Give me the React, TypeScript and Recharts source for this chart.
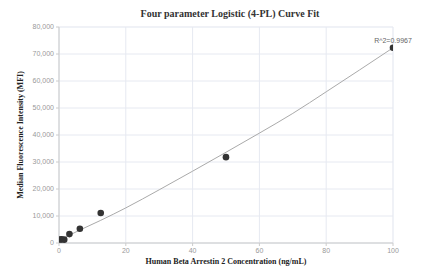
import React from 'react';
import {
  ComposedChart,
  Line,
  Scatter,
  XAxis,
  YAxis,
  CartesianGrid,
  ReferenceDot,
} from 'recharts';

const concentrations = [0.39, 0.78, 1.56, 3.125, 6.25, 12.5, 50, 100];
const mfiValues = [1300, 1350, 1250, 3300, 5300, 11100, 31800, 72300];

const curveX = [0.39, 3.125, 6.25, 12.5, 20, 30, 40, 50, 60, 70, 80, 90, 100];
const curveY = [1150, 2900, 4800, 8400, 13000, 19700, 26600, 33600, 40700, 48000, 56000, 64100, 72300];

const xTicks = [0, 20, 40, 60, 80, 100];
const xMinorTicks = [0, 4, 8, 12, 16, 20, 24, 28, 32, 36, 40, 44, 48, 52, 56, 60, 64, 68, 72, 76, 80, 84, 88, 92, 96, 100];
const yTicks = [0, 10000, 20000, 30000, 40000, 50000, 60000, 70000, 80000];
const yMinorTicks = [0, 5000, 10000, 15000, 20000, 25000, 30000, 35000, 40000, 45000, 50000, 55000, 60000, 65000, 70000, 75000, 80000];

const rSquared = '0.9967';

const points = concentrations.map((x, i) => ({ x, y: mfiValues[i] }));
const curve = curveX.map((x, i) => ({ x, fit: curveY[i] }));

const tickStyle = { fontSize: 7, fill: '#999', fontFamily: 'Liberation Sans, Arial, sans-serif' };
const serif = 'Liberation Serif, Times New Roman, serif';

export default function App() {
  return (
    <div style={{ position: 'absolute', left: 0, top: 0, width: 423, height: 273, background: '#fff' }}>
      <div
        style={{
          position: 'absolute',
          top: 8,
          left: 0,
          width: 460,
          textAlign: 'center',
          fontFamily: serif,
          fontWeight: 'bold',
          fontSize: 10,
          color: '#333',
        }}
      >
        Four parameter Logistic (4-PL) Curve Fit
      </div>
      <div
        style={{
          position: 'absolute',
          top: 257,
          left: 59,
          width: 334,
          textAlign: 'center',
          fontFamily: serif,
          fontWeight: 'bold',
          fontSize: 8,
          color: '#222',
        }}
      >
        Human Beta Arrestin 2 Concentration (ng/mL)
      </div>
      <div
        style={{
          position: 'absolute',
          left: 20,
          top: 135,
          transform: 'translate(-50%, -50%) rotate(-90deg)',
          whiteSpace: 'nowrap',
          fontFamily: serif,
          fontWeight: 'bold',
          fontSize: 8,
          color: '#222',
        }}
      >
        Median Fluorescence Intensity (MFI)
      </div>
      <ComposedChart
        width={423}
        height={273}
        margin={{ top: 27, right: 30, bottom: 10, left: 19 }}
        style={{ position: 'absolute', left: 0, top: 0 }}
      >
        <XAxis xAxisId="minor" type="number" dataKey="x" domain={[0, 100]} ticks={xMinorTicks} hide />
        <YAxis yAxisId="minor" type="number" domain={[0, 80000]} ticks={yMinorTicks} hide />
        <CartesianGrid xAxisId="minor" yAxisId="minor" stroke="#f4f5f9" strokeWidth={1} />
        <XAxis
          xAxisId="main"
          type="number"
          dataKey="x"
          domain={[0, 100]}
          ticks={xTicks}
          height={20}
          tick={tickStyle}
          tickSize={3}
          stroke="#ccc"
          allowDataOverflow
        />
        <YAxis
          yAxisId="main"
          type="number"
          domain={[0, 80000]}
          ticks={yTicks}
          width={40}
          tick={tickStyle}
          tickSize={3}
          stroke="#ccc"
          tickFormatter={(v: number) => v.toLocaleString('en-US')}
        />
        <CartesianGrid xAxisId="main" yAxisId="main" stroke="#e6e9f1" strokeWidth={1} />
        <Line
          xAxisId="main"
          yAxisId="main"
          data={curve}
          dataKey="fit"
          type="monotone"
          stroke="#aaa"
          strokeWidth={1}
          dot={false}
          isAnimationActive={false}
        />
        <Scatter
          xAxisId="main"
          yAxisId="main"
          data={points}
          dataKey="y"
          fill="#333"
          shape={(p: any) => <circle cx={p.cx} cy={p.cy} r={3.3} fill="#333" />}
          isAnimationActive={false}
        />
        <ReferenceDot
          xAxisId="main"
          yAxisId="main"
          x={concentrations[concentrations.length - 1]}
          y={mfiValues[mfiValues.length - 1]}
          r={0}
          stroke="none"
          label={{ value: `R^2=${rSquared}`, position: 'top', fontSize: 7, fill: '#666', fontFamily: 'Liberation Sans, Arial, sans-serif' }}
        />
      </ComposedChart>
    </div>
  );
}
